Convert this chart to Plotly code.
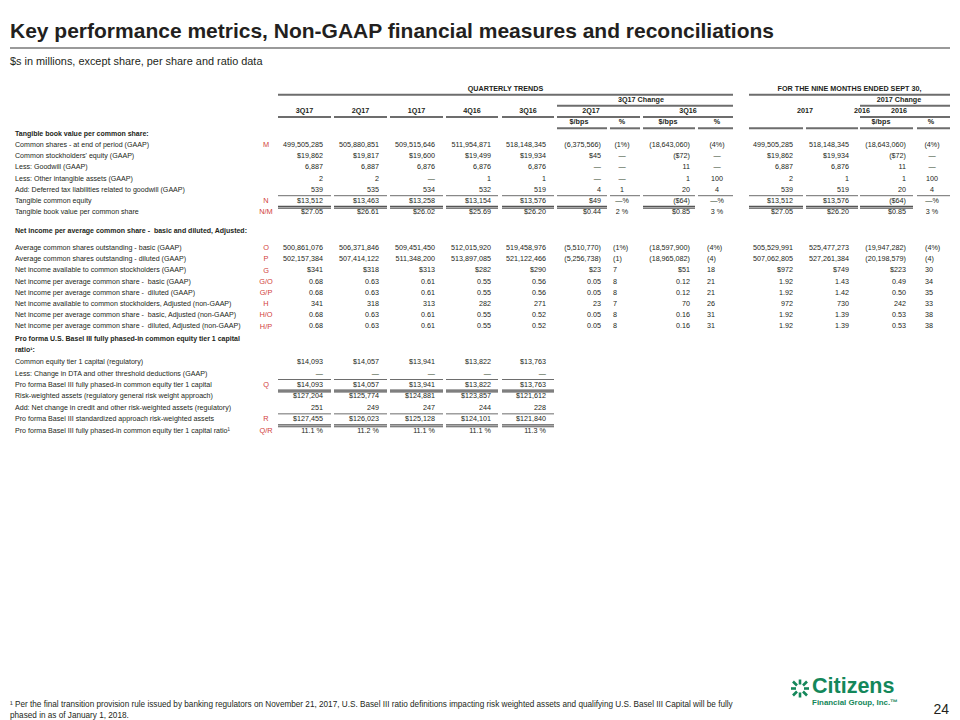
import plotly.graph_objects as go

# ---------------- data ----------------
QTR_COLS = ["3Q17", "2Q17", "1Q17", "4Q16", "3Q16"]
CHG_GROUP = "3Q17 Change"
CHG_PERIODS = ["2Q17", "3Q16"]
NINE_COLS = ["2017", "2016"]
NINE_GROUP = "2017 Change"
NINE_CHG_PERIOD = "2016"
UNIT_HDRS = ["$/bps", "%"]

# Section 1 - Tangible book value per common share
sec1_title = "Tangible book value per common share:"
sec1_labels = [
    "Common shares - at end of period (GAAP)",
    "Common stockholders' equity (GAAP)",
    "Less: Goodwill (GAAP)",
    "Less: Other intangible assets (GAAP)",
    "Add: Deferred tax liabilities related to goodwill (GAAP)",
    "Tangible common equity",
    "Tangible book value per common share",
]
sec1_codes = ["M", "", "", "", "", "N", "N/M"]
shares_end = ["499,505,285", "505,880,851", "509,515,646", "511,954,871", "518,148,345",
              "(6,375,566)", "(1%)", "(18,643,060)", "(4%)",
              "499,505,285", "518,148,345", "(18,643,060)", "(4%)"]
equity = ["$19,862", "$19,817", "$19,600", "$19,499", "$19,934",
          "$45", "—", "($72)", "—", "$19,862", "$19,934", "($72)", "—"]
goodwill = ["6,887", "6,887", "6,876", "6,876", "6,876",
            "—", "—", "11", "—", "6,887", "6,876", "11", "—"]
other_intang = ["2", "2", "—", "1", "1", "—", "—", "1", "100", "2", "1", "1", "100"]
deferred_tax = ["539", "535", "534", "532", "519", "4", "1", "20", "4", "539", "519", "20", "4"]
tang_equity = ["$13,512", "$13,463", "$13,258", "$13,154", "$13,576",
               "$49", "—%", "($64)", "—%", "$13,512", "$13,576", "($64)", "—%"]
tbv_share = ["$27.05", "$26.61", "$26.02", "$25.69", "$26.20",
             "$0.44", "2 %", "$0.85", "3 %", "$27.05", "$26.20", "$0.85", "3 %"]
sec1_rows = [shares_end, equity, goodwill, other_intang, deferred_tax, tang_equity, tbv_share]

# Section 2 - Net income per average common share
sec2_title = "Net income per average common share -  basic and diluted, Adjusted:"
sec2_labels = [
    "Average common shares outstanding - basic (GAAP)",
    "Average common shares outstanding - diluted (GAAP)",
    "Net income available to common stockholders (GAAP)",
    "Net income per average common share -  basic (GAAP)",
    "Net income per average common share -  diluted (GAAP)",
    "Net income available to common stockholders, Adjusted (non-GAAP)",
    "Net income per average common share -  basic, Adjusted (non-GAAP)",
    "Net income per average common share -  diluted, Adjusted (non-GAAP)",
]
sec2_codes = ["O", "P", "G", "G/O", "G/P", "H", "H/O", "H/P"]
avg_basic = ["500,861,076", "506,371,846", "509,451,450", "512,015,920", "519,458,976",
             "(5,510,770)", "(1%)", "(18,597,900)", "(4%)",
             "505,529,991", "525,477,273", "(19,947,282)", "(4%)"]
avg_diluted = ["502,157,384", "507,414,122", "511,348,200", "513,897,085", "521,122,466",
               "(5,256,738)", "(1)", "(18,965,082)", "(4)",
               "507,062,805", "527,261,384", "(20,198,579)", "(4)"]
ni_gaap = ["$341", "$318", "$313", "$282", "$290", "$23", "7", "$51", "18", "$972", "$749", "$223", "30"]
eps_basic = ["0.68", "0.63", "0.61", "0.55", "0.56", "0.05", "8", "0.12", "21", "1.92", "1.43", "0.49", "34"]
eps_diluted = ["0.68", "0.63", "0.61", "0.55", "0.56", "0.05", "8", "0.12", "21", "1.92", "1.42", "0.50", "35"]
ni_adj = ["341", "318", "313", "282", "271", "23", "7", "70", "26", "972", "730", "242", "33"]
eps_basic_adj = ["0.68", "0.63", "0.61", "0.55", "0.52", "0.05", "8", "0.16", "31", "1.92", "1.39", "0.53", "38"]
eps_diluted_adj = ["0.68", "0.63", "0.61", "0.55", "0.52", "0.05", "8", "0.16", "31", "1.92", "1.39", "0.53", "38"]
sec2_rows = [avg_basic, avg_diluted, ni_gaap, eps_basic, eps_diluted, ni_adj, eps_basic_adj, eps_diluted_adj]

# Section 3 - Pro forma Basel III CET1 ratio
sec3_title = ["Pro forma U.S. Basel III fully phased-in common equity tier 1 capital", "ratio¹:"]
sec3_labels = [
    "Common equity tier 1 capital (regulatory)",
    "Less: Change in DTA and other threshold deductions (GAAP)",
    "Pro forma Basel III fully phased-in common equity tier 1 capital",
    "Risk-weighted assets (regulatory general risk weight approach)",
    "Add: Net change in credit and other risk-weighted assets (regulatory)",
    "Pro forma Basel III standardized approach risk-weighted assets",
    "Pro forma Basel III fully phased-in common equity tier 1 capital ratio¹",
]
sec3_codes = ["", "", "Q", "", "", "R", "Q/R"]
cet1 = ["$14,093", "$14,057", "$13,941", "$13,822", "$13,763"]
dta_change = ["—", "—", "—", "—", "—"]
cet1_pf = ["$14,093", "$14,057", "$13,941", "$13,822", "$13,763"]
rwa = ["$127,204", "$125,774", "$124,881", "$123,857", "$121,612"]
rwa_add = ["251", "249", "247", "244", "228"]
rwa_pf = ["$127,455", "$126,023", "$125,128", "$124,101", "$121,840"]
cet1_ratio = ["11.1 %", "11.2 %", "11.1 %", "11.1 %", "11.3 %"]
sec3_rows = [cet1, dta_change, cet1_pf, rwa, rwa_add, rwa_pf, cet1_ratio]

TITLE = "Key performance metrics, Non-GAAP financial measures and reconciliations"
SUBTITLE = "$s in millions, except share, per share and ratio data"
FOOTNOTE = ["¹ Per the final transition provision rule issued by banking regulators on November 21, 2017, "
            "U.S. Basel III ratio definitions impacting risk weighted assets and qualifying U.S. Basel III Capital will be fully",
            "phased in as of January 1, 2018."]
PAGE_NO = "24"

# ---------------- layout / style ----------------
W, H = 960, 720
FONT = "Liberation Sans, Arial, sans-serif"
INK = "#231f20"
RED = "#d2413a"
GREEN = "#14875a"
RULE = "#6d6d6d"
FS_LABEL = 7.1
FS_NUM = 7.2

COL_L = [278, 334, 390, 446, 502, 557, 610, 643, 698, 749, 806, 860, 917]
COL_R = [331, 387, 443, 498, 554, 607, 640, 695, 733, 803, 858, 913, 950]
PCT_COLS = {6, 8, 12}
PAD_R = [8, 8, 8, 7, 8, 6, 0, 5, 0, 10, 9, 7, 0]
PCT_LEFT = {6: 613, 8: 707, 12: 925}     # left-aligned % (section 2)
PCT_CENTER = {6: 622, 8: 717, 12: 932}   # centred % (section 1)
LABEL_X = 15
CODE_X = 266

texts = {}


def add_text(key, x, y, t):
    d = texts.setdefault(key, {"x": [], "y": [], "t": []})
    d["x"].append(x)
    d["y"].append(y)
    d["t"].append(t)


def cell_anchor(ci, pct_mode):
    if ci in PCT_COLS:
        if pct_mode == "center":
            return "pct_c", PCT_CENTER[ci]
        return "pct", PCT_LEFT[ci]
    return "num", COL_R[ci] - PAD_R[ci]


def draw_section(title_lines, title_y, labels, codes, rows, row_y0, step, pct_mode):
    for k, tl in enumerate(title_lines):
        add_text("bold_label", LABEL_X, title_y + k * 11.3, tl)
    ys = []
    for i, (lab, code, vals) in enumerate(zip(labels, codes, rows)):
        y = row_y0 + i * step
        ys.append(y)
        add_text("label", LABEL_X, y, lab)
        if code:
            add_text("code", CODE_X, y, code)
        for ci, v in enumerate(vals):
            kind, x = cell_anchor(ci, pct_mode)
            add_text(kind, x, y, v)
    return ys


ys1 = draw_section([sec1_title], 134.1, sec1_labels, sec1_codes, sec1_rows, 145.3, 11.2, "center")
ys2 = draw_section([sec2_title], 231.0, sec2_labels, sec2_codes, sec2_rows, 248.3, 11.2, "left")
ys3 = draw_section(sec3_title, 339.0, sec3_labels, sec3_codes, sec3_rows, 362.3, 11.45, "left")

# header texts
HDR_A_Y, HDR_B_Y, HDR_C_Y, HDR_D_Y = 89.5, 100.3, 111.3, 122.5
add_text("hdr", (COL_L[0] + COL_R[8]) / 2, HDR_A_Y, "QUARTERLY TRENDS")
add_text("hdr", (COL_L[9] + COL_R[12]) / 2, HDR_A_Y, "FOR THE NINE MONTHS ENDED SEPT 30,")
add_text("hdr", 641, HDR_B_Y, CHG_GROUP)
add_text("hdr", 899, HDR_B_Y, NINE_GROUP)
for ci, q in enumerate(QTR_COLS):
    add_text("hdr", (COL_L[ci] + COL_R[ci]) / 2, HDR_C_Y, q)
add_text("hdr", 591, HDR_C_Y, CHG_PERIODS[0])
add_text("hdr", 688, HDR_C_Y, CHG_PERIODS[1])
add_text("hdr", 805, HDR_C_Y, NINE_COLS[0])
add_text("hdr", 862, HDR_C_Y, NINE_COLS[1])
add_text("hdr", 899, HDR_C_Y, NINE_CHG_PERIOD)
for ci, hx in zip([5, 6, 7, 8, 11, 12], [579, 622, 668, 717, 881, 931]):
    add_text("hdr", hx, HDR_D_Y, UNIT_HDRS[0] if ci in (5, 7, 11) else UNIT_HDRS[1])

STYLES = {
    "label": dict(pos="middle right", size=FS_LABEL, color=INK, weight="normal"),
    "bold_label": dict(pos="middle right", size=7.0, color=INK, weight="bold"),
    "code": dict(pos="middle center", size=7.4, color=RED, weight="normal"),
    "num": dict(pos="middle left", size=FS_NUM, color=INK, weight="normal"),
    "pct": dict(pos="middle right", size=FS_NUM, color=INK, weight="normal"),
    "pct_c": dict(pos="middle center", size=FS_NUM, color=INK, weight="normal"),
    "hdr": dict(pos="middle center", size=7.2, color=INK, weight="bold"),
}

fig = go.Figure()
for key, d in texts.items():
    s = STYLES[key]
    fig.add_trace(go.Scatter(
        x=d["x"], y=d["y"], text=d["t"], mode="text", textposition=s["pos"],
        textfont=dict(family=FONT, size=s["size"], color=s["color"], weight=s["weight"]),
        hoverinfo="skip", showlegend=False, cliponaxis=False))

# title block, footnote, page number, logo
extra = [
    (10, 33, TITLE, dict(size=21, color=INK, weight="bold"), "middle right"),
    (10, 62.5, SUBTITLE, dict(size=10.9, color=INK, weight="normal"), "middle right"),
    (10, 704.5, FOOTNOTE[0], dict(size=8.2, color=INK, weight="normal"), "middle right"),
    (10, 716, FOOTNOTE[1], dict(size=8.2, color=INK, weight="normal"), "middle right"),
    (949, 710, PAGE_NO, dict(size=14, color=INK, weight="normal"), "middle left"),
    (812, 688, "Citizens", dict(size=21.5, color=GREEN, weight="bold"), "middle right"),
    (898, 703.5, "Financial Group, Inc.™", dict(size=7.9, color=GREEN, weight="bold"), "middle left"),
]
for x, y, t, f, p in extra:
    f = dict(f, family=FONT)
    fig.add_trace(go.Scatter(x=[x], y=[y], text=[t], mode="text", textposition=p, textfont=f,
                             hoverinfo="skip", showlegend=False, cliponaxis=False))

shapes = []


def hline(x0, x1, y, w=1.0, c=RULE):
    shapes.append(dict(type="line", xref="x", yref="y", x0=x0, x1=x1, y0=y, y1=y,
                       line=dict(color=c, width=w)))


def dline(x0, x1, y):
    hline(x0, x1, y - 0.9, 1.2, "#555555")
    hline(x0, x1, y + 0.9, 1.2, "#555555")


# title rule
hline(10, 950, 48, 2.2, "#9a9a9a")
# header rules
HW = 2.0
hline(COL_L[0], COL_R[8], 94.8, HW)
hline(COL_L[9], COL_R[12], 94.8, HW)
hline(COL_L[5], COL_R[8], 105.7, HW)
hline(COL_L[11], COL_R[12], 105.7, HW)
for ci in range(5):
    hline(COL_L[ci], COL_R[ci], 117.0, HW)
hline(COL_L[5], COL_R[6], 117.0, HW)
hline(COL_L[7], COL_R[8], 117.0, HW)
hline(COL_L[11], COL_R[12], 117.0, HW)
for ci in range(5, 13):
    hline(COL_L[ci], COL_R[ci], 128.3, HW)

# section 1 rules
for ci in range(13):
    hline(COL_L[ci], COL_R[ci], ys1[5] - 5.6, 1.0)
    if ci not in PCT_COLS:
        dline(COL_L[ci], COL_R[ci], ys1[5] + 6.0)
# section 3 rules
for ci in range(5):
    hline(COL_L[ci], COL_R[ci], ys3[2] - 5.7, 1.0)
    dline(COL_L[ci], COL_R[ci], ys3[2] + 5.8)
    hline(COL_L[ci], COL_R[ci], ys3[5] - 5.7, 1.0)
    dline(COL_L[ci], COL_R[ci], ys3[5] + 6.3)

# logo emblem (stylised)
EC = (800, 688.5)
spokes = [((0, -9), (0, -4)), ((0, 4), (0, 9)), ((-9, 0), (-4, 0)), ((4, 0), (9, 0)),
          ((-7, -7), (-3, -3)), ((7, -7), (3, -3)), ((-7, 7), (-3, 3)), ((7, 7), (3, 3))]
for (a, b) in spokes:
    shapes.append(dict(type="line", xref="x", yref="y",
                       x0=EC[0] + a[0], y0=EC[1] + a[1], x1=EC[0] + b[0], y1=EC[1] + b[1],
                       line=dict(color=GREEN, width=2.6)))

fig.update_layout(
    width=W, height=H, margin=dict(l=0, r=0, t=0, b=0),
    paper_bgcolor="white", plot_bgcolor="white",
    xaxis=dict(range=[0, W], visible=False, fixedrange=True),
    yaxis=dict(range=[H, 0], visible=False, fixedrange=True),
    shapes=shapes, showlegend=False,
)

fig.write_html("out.html", config={"displayModeBar": False, "staticPlot": True},
               post_script="document.body.style.margin='0';")
